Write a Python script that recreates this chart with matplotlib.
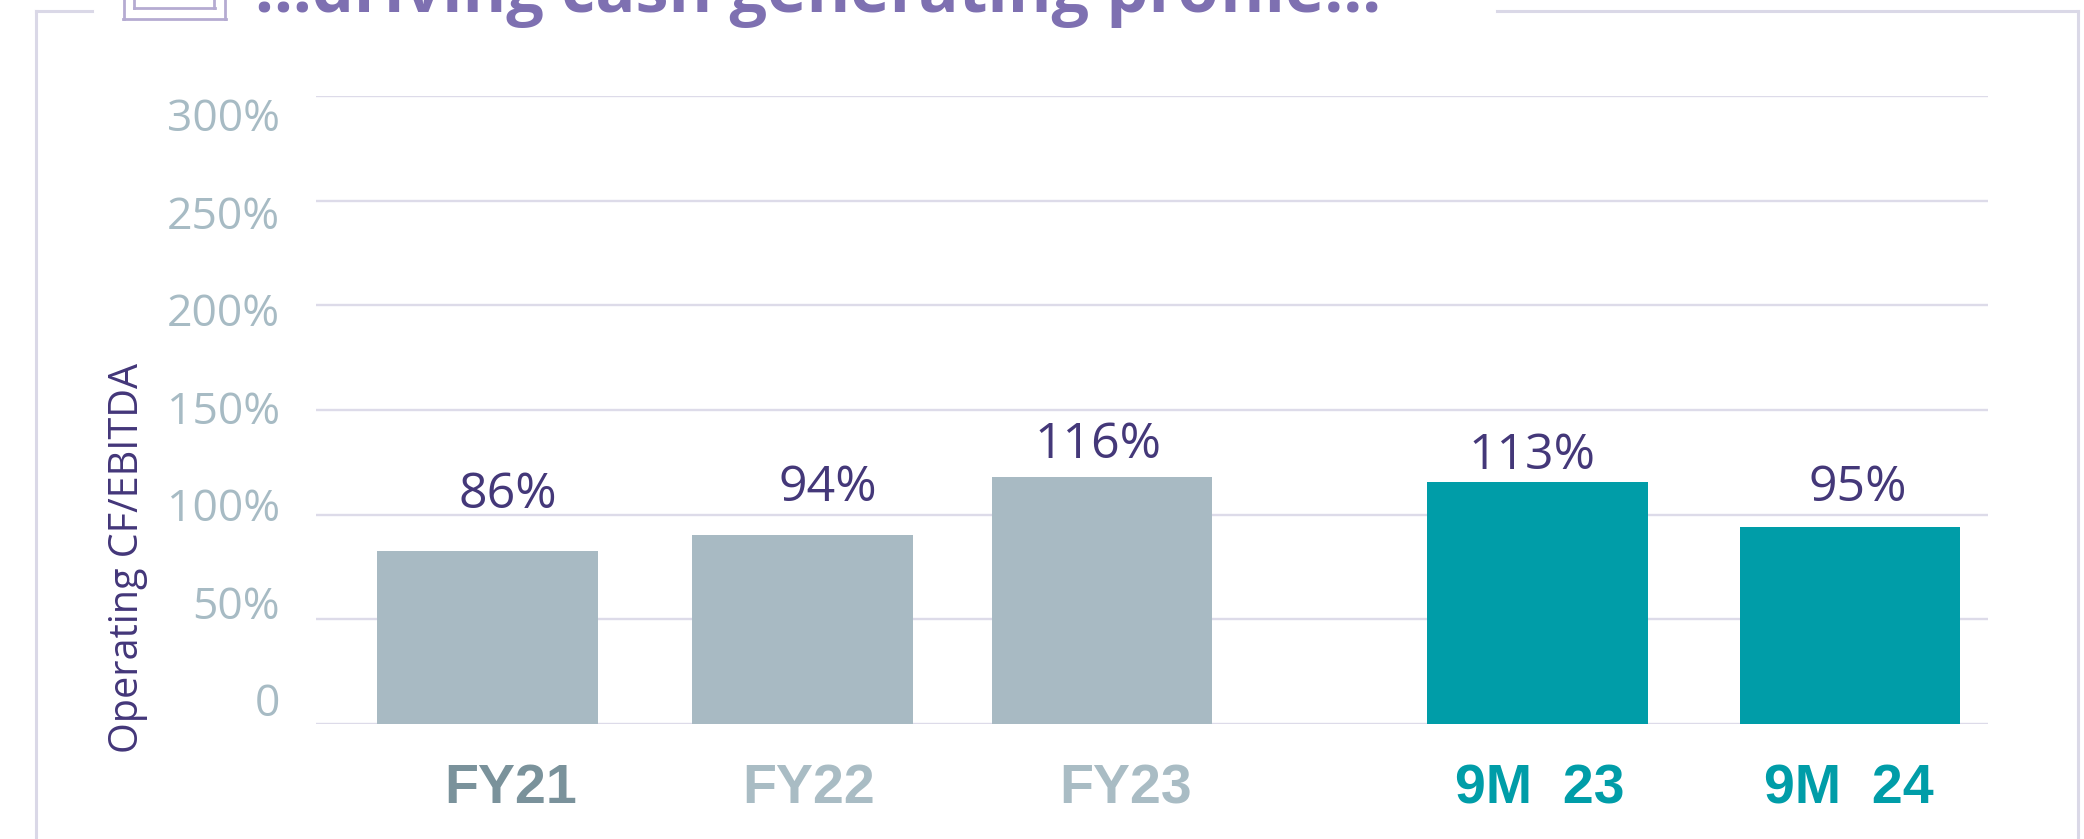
import matplotlib
matplotlib.use("Agg")
import matplotlib.pyplot as plt
from matplotlib.lines import Line2D

# data
categories = ["FY21", "FY22", "FY23", "9M  23", "9M  24"]
bar_values = [82.6, 90.3, 118.0, 115.6, 94.1]   # bar heights as drawn (%)
label_values = [86, 94, 116, 113, 95]           # printed labels (%)
y_ticks = [0, 50, 100, 150, 200, 250, 300]

# colours
GRAY = "#A8BAC3"
TEAL = "#009DA8"
bar_colors = [GRAY, GRAY, GRAY, TEAL, TEAL]
xlab_colors = ["#7A929B", "#A9BCC4", "#A9BCC4", TEAL, TEAL]
PURPLE_DARK = "#443879"
TICK_COL = "#A7BBC4"
GRID_COL = "#DDDBE9"
FRAME_COL = "#DAD8E7"

REG = ["Open Sans", "Noto Sans", "DejaVu Sans"]
NARROW = ["Liberation Sans Narrow", "Liberation Sans", "DejaVu Sans"]

W, H = 2084, 839
PT = 72 / 100  # points per pixel at dpi 100
fig = plt.figure(figsize=(W / 100, H / 100), dpi=100)

def fx(px):
    return px / W

def fy(py):
    return 1 - py / H

# axes placed in pixel terms
ax = fig.add_axes([fx(316), fy(724), fx(1988) - fx(316), fy(96) - fy(724)])

xs = [0, 1.016, 1.981, 3.387, 4.395]
ax.bar(xs, bar_values, width=0.71, color=bar_colors, zorder=3)
ax.set_xlim(-0.553, 4.840)
ax.set_ylim(0, 300)

ax.set_yticks(y_ticks)
ax.set_yticklabels([])
ax.tick_params(axis="y", length=0)
ax.grid(axis="y", color=GRID_COL, linewidth=1.7)
ax.set_axisbelow(True)
for s in ax.spines.values():
    s.set_visible(False)

# category labels (slide has them slightly off-centre for some bars)
ax.set_xticks([])
xlab_nudge = [23, 6, 24, 2, -1]   # px
for x, name, c, dx in zip(xs, categories, xlab_colors, xlab_nudge):
    ax.annotate(name, (x, 0), xycoords=("data", "axes fraction"),
                xytext=(dx * PT, -39 * PT), textcoords="offset points",
                ha="center", va="top", fontfamily=NARROW, fontweight="bold",
                fontsize=40, color=c, annotation_clip=False)

# tick labels sit on their own slightly compressed scale
def fwd(m):
    return (m - 11.70) / 0.9312

def inv(s):
    return 0.9312 * s + 11.70

sec = ax.secondary_yaxis("left", functions=(fwd, inv))
sec.set_yticks(y_ticks)
sec.set_yticklabels([("%d%%" % v) if v else "0" for v in y_ticks],
                    fontfamily=REG, fontsize=32, color=TICK_COL)
sec.tick_params(length=0, pad=26)
sec.spines["left"].set_visible(False)

# value labels, with small per-label nudges (px) as on the slide
label_nudge = [(20, 36), (25, 26), (-4, 23), (-6, 18), (8, 24)]
for x, v, (dx, dy) in zip(xs, label_values, label_nudge):
    ax.annotate("%d%%" % v, (x, v), xytext=(dx * PT, dy * PT), textcoords="offset points",
                ha="center", va="baseline", fontfamily=REG, fontsize=36,
                color=PURPLE_DARK, zorder=4)

fig.text(fx(128), fy(558), "Operating CF/EBITDA", rotation=90, ha="center", va="center",
         fontfamily=REG, fontsize=28.5, color="#433679")

# frame around the panel
lw = 2.2
for seg in [((36, 92), (11, 11)), ((1497, 2078), (11, 11)),
            ((36, 36), (11, 839)), ((2078, 2078), (11, 839))]:
    fig.add_artist(Line2D([fx(p) for p in seg[0]], [fy(p) for p in seg[1]],
                          color=FRAME_COL, linewidth=lw))

# icon (cut off at the top, as on the slide)
ICON = "#B5ABD2"
for seg in [((123.5, 123.5), (0, 19)), ((123, 225.5), (19, 19)), ((224.5, 224.5), (0, 19)),
            ((134, 134), (0, 8)), ((133.5, 214.5), (8, 8)), ((214, 214), (0, 8))]:
    fig.add_artist(Line2D([fx(p) for p in seg[0]], [fy(p) for p in seg[1]],
                          color=ICON, linewidth=2.0))

# heading runs off the top edge like in the source slide
title = fig.text(fx(255), fy(11.7), "…driving cash generating profile…", ha="left",
                 va="baseline", fontfamily=REG, fontweight="bold", fontsize=40,
                 color="#7E70B1")
r = fig.canvas.get_renderer()
w = title.get_window_extent(r).width
title.set_fontsize(40 * 1125 / w)

fig.savefig("out.png", dpi=100, facecolor="white")
